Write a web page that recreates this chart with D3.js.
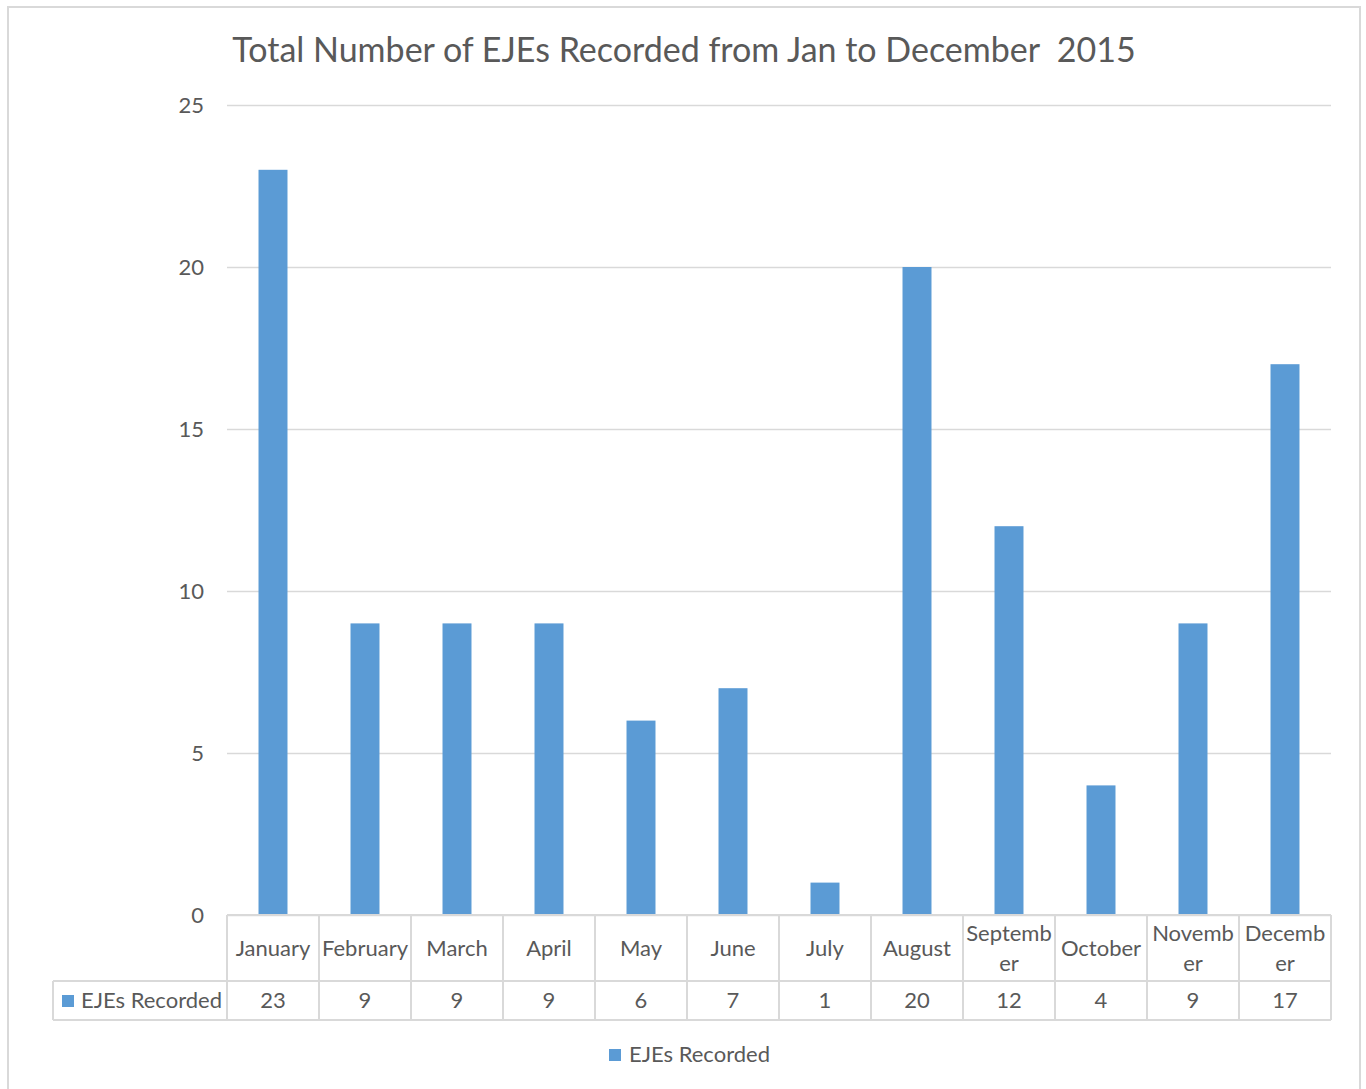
<!DOCTYPE html>
<html>
<head>
<meta charset="utf-8">
<script src="https://cdn.jsdelivr.net/npm/d3@7"></script>
<style>
  body { margin: 0; background: #fff; }
  text { font-family: Lato, "Open Sans", sans-serif; fill: #595959; }
</style>
</head>
<body>
<div id="chart"></div>
<script>
// Data
const months = ['January', 'February', 'March', 'April', 'May', 'June', 'July',
  'August', 'September', 'October', 'November', 'December'];
// how Excel wrapped the month names in the data table
const monthLabels = [['January'], ['February'], ['March'], ['April'], ['May'], ['June'], ['July'],
  ['August'], ['Septemb', 'er'], ['October'], ['Novemb', 'er'], ['Decemb', 'er']];
const ejes = [23, 9, 9, 9, 6, 7, 1, 20, 12, 4, 9, 17];
const yTicks = [0, 5, 10, 15, 20, 25];
const seriesName = 'EJEs Recorded';
const titleText = 'Total Number of EJEs Recorded from Jan to December  2015';

const W = 1366, H = 1089;
const plot = { left: 227, right: 1331, top: 105, bottom: 915 };
const barColor = '#5b9bd5';
const gridColor = '#d9d9d9';
const fs = '22px';

const svg = d3.select('#chart')
  .append('svg')
  .attr('width', W)
  .attr('height', H);

// Chart frame
svg.append('path')
  .attr('d', `M8,${H} V7 H1360 V${H}`)
  .attr('fill', 'none')
  .attr('stroke', gridColor)
  .attr('stroke-width', 2);

// Title
svg.append('text')
  .attr('x', 684)
  .attr('y', 62)
  .attr('text-anchor', 'middle')
  .style('font-size', '34px')
  .style('white-space', 'pre')
  .text(titleText);

// Scales
const x = d3.scaleBand()
  .domain(months)
  .range([plot.left, plot.right])
  .paddingInner(0.685)
  .paddingOuter(0.3425);

const xCell = d3.scaleBand()
  .domain(months)
  .range([plot.left, plot.right]);

const y = d3.scaleLinear()
  .domain([0, 25])
  .range([plot.bottom, plot.top]);

// Gridlines
svg.append('g')
  .attr('transform', `translate(${plot.left},0)`)
  .call(d3.axisLeft(y).tickValues(yTicks).tickSize(-(plot.right - plot.left)).tickFormat(''))
  .call(g => g.select('.domain').remove())
  .call(g => g.selectAll('line').attr('stroke', gridColor).attr('stroke-width', 1.3));

// Y labels
svg.append('g')
  .attr('transform', `translate(${plot.left},0)`)
  .call(d3.axisLeft(y).tickValues(yTicks).tickSize(0).tickPadding(23))
  .call(g => g.select('.domain').remove())
  .call(g => g.selectAll('text')
    .style('font-size', fs)
    .style('font-family', 'Lato, "Open Sans", sans-serif')
    .attr('fill', '#595959'));

// Bars
svg.selectAll('.bar')
  .data(ejes)
  .enter()
  .append('rect')
  .attr('class', 'bar')
  .attr('x', (d, i) => x(months[i]))
  .attr('y', d => y(d))
  .attr('width', x.bandwidth())
  .attr('height', d => y(0) - y(d))
  .attr('fill', barColor);

// Data table
const rowTop = plot.bottom, rowMid = 981, rowBottom = 1020;
const tableLeft = 53;
const table = svg.append('g')
  .attr('stroke', gridColor)
  .attr('stroke-width', 2)
  .attr('fill', 'none');

table.append('line')
  .attr('x1', plot.left).attr('x2', plot.right)
  .attr('y1', rowTop).attr('y2', rowTop);
table.append('line')
  .attr('x1', tableLeft).attr('x2', plot.right)
  .attr('y1', rowMid).attr('y2', rowMid);
table.append('line')
  .attr('x1', tableLeft).attr('x2', plot.right)
  .attr('y1', rowBottom).attr('y2', rowBottom);
table.append('line')
  .attr('x1', tableLeft).attr('x2', tableLeft)
  .attr('y1', rowMid).attr('y2', rowBottom);

const cellEdges = months.map(m => xCell(m)).concat([plot.right]);
table.selectAll('.vline')
  .data(cellEdges)
  .enter()
  .append('line')
  .attr('x1', d => d).attr('x2', d => d)
  .attr('y1', rowTop).attr('y2', rowBottom);

// Month labels
const headers = svg.selectAll('.month')
  .data(monthLabels)
  .enter()
  .append('text')
  .attr('class', 'month')
  .attr('text-anchor', 'middle')
  .style('font-size', fs);

headers.each(function(lines, i) {
  const cx = xCell(months[i]) + xCell.bandwidth() / 2;
  const startY = lines.length === 1 ? 956 : 941;
  d3.select(this).selectAll('tspan')
    .data(lines)
    .enter()
    .append('tspan')
    .attr('x', cx)
    .attr('y', (d, j) => startY + j * 30)
    .text(d => d);
});

// Values row
svg.selectAll('.val')
  .data(ejes)
  .enter()
  .append('text')
  .attr('class', 'val')
  .attr('x', (d, i) => xCell(months[i]) + xCell.bandwidth() / 2)
  .attr('y', 1008)
  .attr('text-anchor', 'middle')
  .style('font-size', fs)
  .text(d => d);

// Series key in table
svg.append('rect')
  .attr('x', 62).attr('y', 995)
  .attr('width', 12).attr('height', 12)
  .attr('fill', barColor);
svg.append('text')
  .attr('x', 81).attr('y', 1008)
  .style('font-size', fs)
  .text(seriesName);

// Legend
const legend = svg.append('g')
  .attr('transform', 'translate(609,1049)');
legend.append('rect')
  .attr('width', 12).attr('height', 12)
  .attr('fill', barColor);
legend.append('text')
  .attr('x', 20).attr('y', 13)
  .style('font-size', fs)
  .text(seriesName);
</script>
</body>
</html>
